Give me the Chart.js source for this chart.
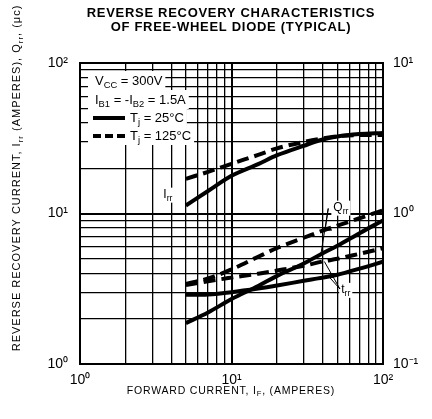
<!DOCTYPE html>
<html lang="en">
<head>
<meta charset="UTF-8">
<title>Reverse recovery characteristics of free-wheel diode</title>
<script src="https://cdn.jsdelivr.net/npm/chart.js"></script>
<style>
  html, body { margin: 0; padding: 0; background: #fff; }
  #wrap { width: 432px; height: 419px; }
</style>
</head>
<body>
<div id="wrap"><canvas id="chart"></canvas></div>
<script>
  // forward current I_F (A)
  const forwardCurrent = [5, 7, 10, 15, 20, 30, 40, 50, 70, 100];
  // Irr (A), left axis
  const irr25 = [11.3, 14.1, 17.8, 21.3, 24.4, 28.2, 31.0, 32.5, 33.7, 34.3];
  const irr125 = [17.0, 18.9, 21.4, 24.5, 27.1, 29.9, 31.6, 32.6, 33.2, 33.2];
  // Qrr (uC) and trr (us), right axis
  const qrr25 = [0.187, 0.22, 0.27, 0.33, 0.385, 0.465, 0.545, 0.61, 0.74, 0.90];
  const qrr125 = [0.34, 0.37, 0.425, 0.516, 0.59, 0.69, 0.77, 0.83, 0.93, 1.05];
  const trr25 = [0.288, 0.29, 0.30, 0.317, 0.332, 0.357, 0.375, 0.392, 0.43, 0.478];
  const trr125 = [0.335, 0.355, 0.375, 0.398, 0.418, 0.45, 0.48, 0.50, 0.54, 0.587];

  const gridTicks = [1, 2, 3, 4, 5, 6, 7, 8, 9, 10, 20, 30, 40, 50, 60, 70, 80, 90, 100];
  const rightTicks = [0.1, 1, 10];
  const decadeLabels = { '0.1': '10⁻¹', '1': '10⁰', '10': '10¹', '100': '10²' };

  const FONT = '"Liberation Sans", Arial, Helvetica, sans-serif';

  function pts(ys) {
    return forwardCurrent.map((x, i) => ({ x: x, y: ys[i] }));
  }

  function curve(label, ys, axis, dashed) {
    return {
      label: label,
      data: pts(ys),
      yAxisID: axis,
      borderColor: '#000',
      borderWidth: 4,
      borderDash: dashed ? [12, 6] : [],
      pointRadius: 0,
      cubicInterpolationMode: 'monotone',
      fill: false
    };
  }

  function partsWidth(ctx, parts, size) {
    let w = 0;
    parts.forEach(p => {
      ctx.font = (p[1] ? size * 0.72 : size) + 'px ' + FONT;
      w += ctx.measureText(p[0]).width;
    });
    return w;
  }

  // draws text with subscripts; parts = [[text, isSub], ...]
  function rich(ctx, parts, x, y, size, align) {
    const w = partsWidth(ctx, parts, size);
    let cx = align === 'center' ? x - w / 2 : x;
    ctx.textBaseline = 'middle';
    ctx.textAlign = 'left';
    parts.forEach(p => {
      ctx.font = (p[1] ? size * 0.72 : size) + 'px ' + FONT;
      ctx.fillText(p[0], cx, p[1] ? y + size * 0.32 : y);
      cx += ctx.measureText(p[0]).width;
    });
    return w;
  }

  function whiteBox(ctx, parts, x, y, size) {
    const w = partsWidth(ctx, parts, size);
    ctx.fillStyle = '#fff';
    ctx.fillRect(x - 2, y - size * 0.6, w + 4, size * 1.25);
    ctx.fillStyle = '#000';
  }

  const gridWidth = c => (decadeLabels[String(c.tick && c.tick.value)] ? 2 : 1.3);

  const decorations = {
    id: 'decorations',
    afterDatasetsDraw(chart) {
      const ctx = chart.ctx;
      const a = chart.chartArea;
      const sx = chart.scales.x, sy = chart.scales.y, sr = chart.scales.y2;
      ctx.save();
      ctx.fillStyle = '#000';
      ctx.strokeStyle = '#000';

      // legend block
      const lx = a.left + 15;
      const rows = [
        { y: 81, parts: [['V', 0], ['CC', 1], [' = 300V', 0]] },
        { y: 100, parts: [['I', 0], ['B1', 1], [' = -I', 0], ['B2', 1], [' = 1.5A', 0]] },
        { y: 118, parts: [['T', 0], ['j', 1], [' = 25°C', 0]], line: 'solid' },
        { y: 136, parts: [['T', 0], ['j', 1], [' = 125°C', 0]], line: 'dash' }
      ];
      rows.forEach(r => {
        const tx = r.line ? lx + 35 : lx;
        const w = partsWidth(ctx, r.parts, 13);
        ctx.fillStyle = '#fff';
        ctx.fillRect(a.left + 8, r.y - 10, tx + w + 3 - (a.left + 8), 19);
      });
      ctx.fillStyle = '#000';
      rows.forEach(r => {
        if (r.line) {
          ctx.lineWidth = 4;
          ctx.setLineDash(r.line === 'dash' ? [8, 4] : []);
          ctx.beginPath();
          ctx.moveTo(lx - 2, r.y);
          ctx.lineTo(lx + 30, r.y);
          ctx.stroke();
          ctx.setLineDash([]);
          rich(ctx, r.parts, lx + 35, r.y, 13, 'left');
        } else {
          rich(ctx, r.parts, lx, r.y, 13, 'left');
        }
      });

      // curve labels with leader lines
      const px = v => sx.getPixelForValue(v);
      const pyL = v => sy.getPixelForValue(v);
      const pyR = v => sr.getPixelForValue(v);

      const irrLab = [['I', 0], ['rr', 1]];
      whiteBox(ctx, irrLab, px(3.55), pyL(13.3), 12);
      rich(ctx, irrLab, px(3.55), pyL(13.3), 12, 'left');

      const qLab = [['Q', 0], ['rr', 1]];
      whiteBox(ctx, qLab, px(47), pyR(1.09), 12);
      rich(ctx, qLab, px(47), pyR(1.09), 12, 'left');
      ctx.lineWidth = 1;
      ctx.beginPath();
      ctx.moveTo(px(43.5), pyR(1.08));
      ctx.lineTo(px(41.5), pyR(0.775));
      ctx.lineTo(px(46), pyR(0.775));
      ctx.moveTo(px(43.5), pyR(1.08));
      ctx.lineTo(px(39), pyR(0.545));
      ctx.stroke();

      const tLab = [['t', 0], ['rr', 1]];
      whiteBox(ctx, tLab, px(53), pyR(0.31), 12);
      rich(ctx, tLab, px(53), pyR(0.31), 12, 'left');
      ctx.beginPath();
      ctx.moveTo(px(52), pyR(0.315));
      ctx.lineTo(px(41), pyR(0.48));
      ctx.moveTo(px(52), pyR(0.315));
      ctx.lineTo(px(44), pyR(0.38));
      ctx.stroke();

      // frame
      ctx.lineWidth = 2;
      ctx.strokeRect(a.left, a.top, a.right - a.left, a.bottom - a.top);

      // title
      ctx.textAlign = 'center';
      ctx.textBaseline = 'middle';
      ctx.font = 'bold 13px ' + FONT;
      ctx.letterSpacing = '0.7px';
      ctx.fillText('REVERSE RECOVERY CHARACTERISTICS', 231, 13);
      ctx.fillText('OF FREE-WHEEL DIODE (TYPICAL)', 231, 27);

      // x axis title
      ctx.letterSpacing = '0.8px';
      rich(ctx, [['FORWARD CURRENT, I', 0], ['F', 1], [', (AMPERES)', 0]], 231, 391, 10.5, 'center');

      // y axis title (rotated)
      ctx.letterSpacing = '1px';
      ctx.translate(17, 178);
      ctx.rotate(-Math.PI / 2);
      rich(ctx, [['REVERSE RECOVERY CURRENT, I', 0], ['rr', 1], [' (AMPERES), Q', 0], ['rr', 1], [', (μc)', 0]], 0, 0, 11, 'center');
      ctx.restore();
    }
  };

  const tickFont = { family: FONT, size: 14 };

  new Chart(document.getElementById('chart'), {
    type: 'line',
    data: {
      datasets: [
        curve('Irr Tj=25°C', irr25, 'y', false),
        curve('Irr Tj=125°C', irr125, 'y', true),
        curve('Qrr Tj=25°C', qrr25, 'y2', false),
        curve('Qrr Tj=125°C', qrr125, 'y2', true),
        curve('trr Tj=25°C', trr25, 'y2', false),
        curve('trr Tj=125°C', trr125, 'y2', true)
      ]
    },
    options: {
      responsive: true,
      maintainAspectRatio: false,
      animation: false,
      layout: { padding: { top: 63, left: 0, right: 0, bottom: 0 } },
      plugins: {
        legend: { display: false },
        tooltip: { enabled: false }
      },
      scales: {
        x: {
          type: 'logarithmic',
          min: 1,
          max: 100,
          afterBuildTicks: s => { s.ticks = gridTicks.map(v => ({ value: v })); },
          afterFit: s => { s.height = 55; },
          ticks: {
            autoSkip: false,
            maxRotation: 0,
            padding: 8,
            color: '#000',
            font: tickFont,
            callback: v => decadeLabels[String(v)] || ''
          },
          grid: { color: '#000', drawTicks: false, lineWidth: gridWidth },
          border: { display: true, color: '#000', width: 2 }
        },
        y: {
          type: 'logarithmic',
          position: 'left',
          min: 1,
          max: 100,
          afterBuildTicks: s => { s.ticks = gridTicks.map(v => ({ value: v })); },
          afterFit: s => { s.width = 80; },
          ticks: {
            autoSkip: false,
            padding: 12,
            color: '#000',
            font: tickFont,
            callback: v => decadeLabels[String(v)] || ''
          },
          grid: { color: '#000', drawTicks: false, lineWidth: gridWidth },
          border: { display: true, color: '#000', width: 2 }
        },
        y2: {
          type: 'logarithmic',
          position: 'right',
          min: 0.1,
          max: 10,
          afterBuildTicks: s => { s.ticks = rightTicks.map(v => ({ value: v })); },
          afterFit: s => { s.width = 49; },
          ticks: {
            autoSkip: false,
            padding: 10,
            color: '#000',
            font: tickFont,
            callback: v => decadeLabels[String(v)] || ''
          },
          grid: { display: false, drawTicks: false },
          border: { display: true, color: '#000', width: 2 }
        }
      }
    },
    plugins: [decorations]
  });
</script>
</body>
</html>
